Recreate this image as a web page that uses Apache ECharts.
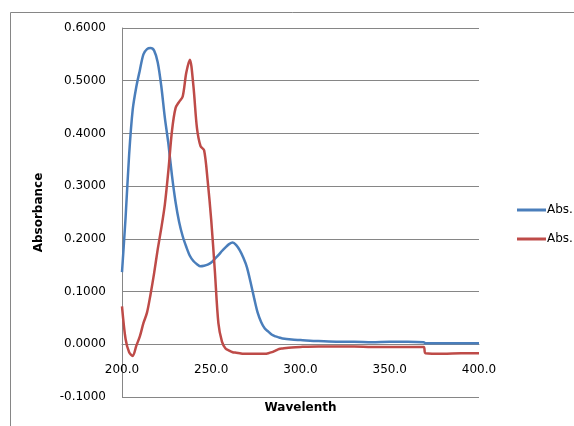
<!DOCTYPE html>
<html>
<head>
<meta charset="utf-8">
<script src="https://cdn.jsdelivr.net/npm/echarts@6/dist/echarts.min.js"></script>
<style>
html,body{margin:0;padding:0;background:#fff;}
#chart{width:574px;height:426px;}
</style>
</head>
<body>
<div id="chart"></div>
<script>
const wavelengths = [200,202,204,206,208,210,212,214,216,218,220,222,224,226,228,230,232,234,236,238,240,242,244,246,248,250,252,254,256,258,260,262,264,266,268,270,272,274,276,278,280,282,284,286,288,290,295,300,310,320,330,340,350,360,369,370,380,390,400];
const absBlue = [0.137,0.240,0.360,0.445,0.488,0.520,0.550,0.560,0.562,0.557,0.535,0.490,0.430,0.380,0.320,0.270,0.232,0.205,0.185,0.168,0.158,0.152,0.148,0.149,0.151,0.155,0.162,0.169,0.177,0.184,0.190,0.193,0.188,0.178,0.164,0.146,0.118,0.088,0.060,0.042,0.030,0.024,0.018,0.015,0.013,0.011,0.009,0.008,0.006,0.005,0.005,0.004,0.005,0.005,0.004,0.002,0.002,0.002,0.002];
const absRed = [0.072,0.010,-0.015,-0.022,-0.003,0.015,0.040,0.060,0.095,0.135,0.180,0.220,0.265,0.330,0.405,0.448,0.460,0.470,0.515,0.540,0.490,0.410,0.376,0.368,0.310,0.235,0.140,0.040,0.005,-0.008,-0.012,-0.015,-0.016,-0.017,-0.018,-0.018,-0.018,-0.018,-0.018,-0.018,-0.018,-0.017,-0.015,-0.012,-0.009,-0.008,-0.006,-0.005,-0.004,-0.004,-0.004,-0.005,-0.005,-0.005,-0.005,-0.017,-0.018,-0.017,-0.017];
const seriesNames = ['Abs.','Abs.'];
const xTitle = 'Wavelenth';
const yTitle = 'Absorbance';

const chart = echarts.init(document.getElementById('chart'), null, {renderer:'canvas'});
const font = 'DejaVu Sans';
const gray = '#868686';
chart.setOption({
  animation:false,
  backgroundColor:'#fff',
  graphic:[{type:'rect',shape:{x:10.5,y:12.5,width:700,height:600},style:{fill:'none',stroke:gray,lineWidth:1},silent:true}],
  grid:{left:122,right:95,top:28,bottom:29,containLabel:false,outerBoundsMode:'none'},
  legend:{
    orient:'vertical',left:517,top:204,itemWidth:29,itemHeight:3,itemGap:17,icon:'rect',
    padding:0,
    data:['s1','s2'],
    formatter:function(n){return n==='s1'?seriesNames[0]:seriesNames[1];},
    textStyle:{fontFamily:font,fontSize:12,color:'#000',padding:[0,0,0,-4]}
  },
  xAxis:{
    type:'value',min:200,max:400,interval:50,
    offset:-53,
    name:xTitle,nameLocation:'middle',nameGap:58,
    nameTextStyle:{fontFamily:font,fontSize:12,fontWeight:'bold',color:'#000'},
    axisLine:{show:true,onZero:false,lineStyle:{color:gray,width:1}},
    axisTick:{show:false},
    splitLine:{show:false},
    axisLabel:{formatter:function(v){return v.toFixed(1);},fontFamily:font,fontSize:12,color:'#000',margin:20}
  },
  yAxis:{
    type:'value',min:-0.1,max:0.6,interval:0.1,
    name:yTitle,nameLocation:'middle',nameGap:77,
    nameTextStyle:{fontFamily:font,fontSize:12,fontWeight:'bold',color:'#000'},
    axisLine:{show:true,lineStyle:{color:gray,width:1}},
    axisTick:{show:false},
    splitLine:{show:true,lineStyle:{color:gray,width:1}},
    axisLabel:{formatter:function(v){return v.toFixed(4);},fontFamily:font,fontSize:12,color:'#000',margin:16}
  },
  series:[
    {name:'s1',type:'line',symbol:'none',smooth:0.3,data:wavelengths.map((w,i)=>[w,absBlue[i]]),lineStyle:{color:'#4A7EBB',width:2.5},itemStyle:{color:'#4A7EBB'}},
    {name:'s2',type:'line',symbol:'none',smooth:0.3,data:wavelengths.map((w,i)=>[w,absRed[i]]),lineStyle:{color:'#BE4B48',width:2.5},itemStyle:{color:'#BE4B48'}}
  ]
});
</script>
</body>
</html>
